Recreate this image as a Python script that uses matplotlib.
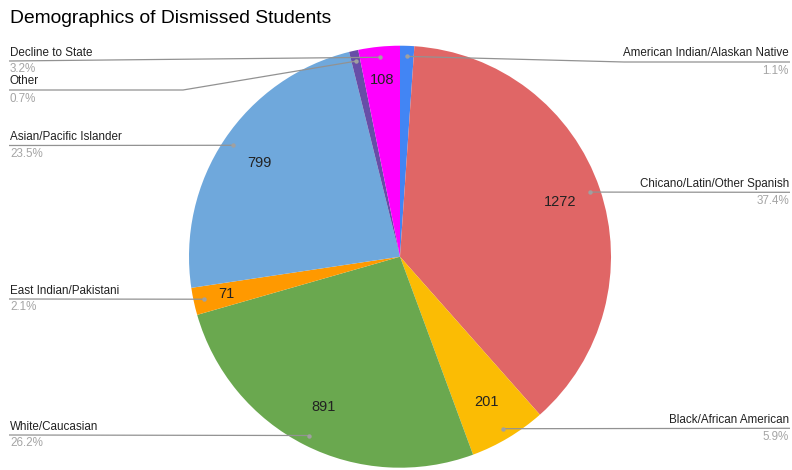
import numpy as np
import matplotlib
matplotlib.use("Agg")
import matplotlib.pyplot as plt

plt.rcParams['font.family'] = ['Liberation Sans', 'DejaVu Sans']

# Dismissed students by demographic group (clockwise from 12 o'clock)
groups = ['American Indian/Alaskan Native', 'Chicano/Latin/Other Spanish',
          'Black/African American', 'White/Caucasian', 'East Indian/Pakistani',
          'Asian/Pacific Islander', 'Other', 'Decline to State']
counts = [37, 1272, 201, 891, 71, 799, 24, 108]
colors = ['#4285f4', '#e06666', '#fbbc04', '#6aa84f', '#ff9900',
          '#6fa8dc', '#674ea7', '#ff00ff']

# label placement: side, y of the leader line (px from top), elbow x
sides = ['R', 'R', 'R', 'L', 'L', 'L', 'L', 'L']
line_y = [62, 192.3, 428.3, 435, 299, 145.5, 90, 61]
elbow_x = [624, None, None, None, None, None, 183, None]

W, H = 792, 470
cx, cy, R = 400, 256.7, 211

fig = plt.figure(figsize=(W / 100, H / 100), dpi=100)
ax = fig.add_axes([0, 0, 1, 1])

wedges, _ = ax.pie(counts, colors=colors, startangle=90, counterclock=False,
                   center=(cx, H - cy), radius=R, frame=True,
                   wedgeprops=dict(linewidth=0, antialiased=True))
ax.set_xlim(0, W)
ax.set_ylim(0, H)
ax.set_aspect('equal')
ax.axis('off')

total = float(sum(counts))
for i, w in enumerate(wedges):
    mid = np.deg2rad((w.theta1 + w.theta2) / 2)
    frac = counts[i] / total

    # value inside the slice
    if frac > 0.015:
        d = 0.8 if frac > 0.04 else 0.84
        ax.text(cx + d * R * np.cos(mid), H - cy + d * R * np.sin(mid),
                str(counts[i]), ha='center', va='center', fontsize=10.5,
                color='#222222')

    # leader line with a dot on the slice
    dx = cx + 0.95 * R * np.cos(mid)
    dy = H - cy + 0.95 * R * np.sin(mid)
    ly = H - line_y[i]
    edge = 790 if sides[i] == 'R' else 9
    xs, ys = [dx], [dy]
    if elbow_x[i] is not None:
        xs.append(elbow_x[i])
        ys.append(ly)
    xs.append(edge)
    ys.append(ly)
    ax.plot(xs, ys, color='#929292', lw=0.9, solid_capstyle='butt')
    ax.plot(dx, dy, 'o', ms=3.2, color='#a0a0a0', mec='none')

    tx = 789 if sides[i] == 'R' else 10
    ha = 'right' if sides[i] == 'R' else 'left'
    ax.text(tx, ly + 8.5, groups[i], ha=ha, va='center', fontsize=8.4,
            color='#222222')
    ax.text(tx, ly - 8.5, '%.1f%%' % (100 * frac), ha=ha, va='center',
            fontsize=8.4, color='#a5a5a5')

fig.text(10 / W, 1 - 18.5 / H, 'Demographics of Dismissed Students',
         ha='left', va='center', fontsize=13.85, color='#000000')

fig.savefig('out.png', dpi=100, facecolor='white')
